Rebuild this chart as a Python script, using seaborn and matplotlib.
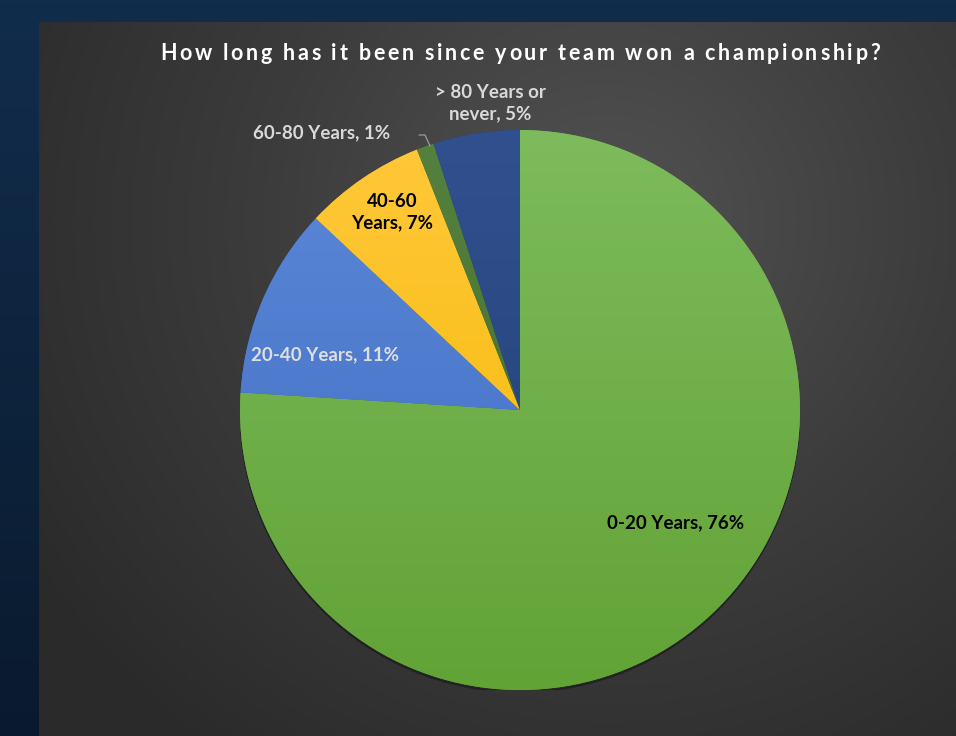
import numpy as np
import matplotlib
matplotlib.use("Agg")
import matplotlib.pyplot as plt
import seaborn as sns
from matplotlib.colors import LinearSegmentedColormap

sns.set_theme(style="white")
plt.rcParams['font.family'] = ['Lato', 'DejaVu Sans']

# ---- data ----
title = "How long has it been since your team won a championship?"
categories = ["0-20 Years", "20-40 Years", "40-60 Years", "60-80 Years", "> 80 Years or never"]
values = [76, 11, 7, 1, 5]
label_texts = ["0-20 Years, 76%", "20-40 Years, 11%", "40-60\nYears, 7%",
               "60-80 Years, 1%", "> 80 Years or\nnever, 5%"]

# ---- styles ----
colors_top = ["#7dbb5c", "#5b88d8", "#ffc83a", "#55813f", "#32508e"]
colors_bot = ["#62a336", "#3f6cc0", "#f5b800", "#43692c", "#203f74"]
label_colors = ["#000000", "#dedede", "#000000", "#d9d9d9", "#d9d9d9"]
label_pos = [(0.557, -0.404), (-0.696, 0.196), (-0.457, 0.707), (-0.707, 0.989), (-0.107, 1.096)]

W, H = 956, 736
fig = plt.figure(figsize=(W / 100, H / 100), dpi=100)

# outer navy background
bg = fig.add_axes([0, 0, 1, 1])
bg.set_axis_off()
yy = np.linspace(0, 1, 200)[:, None] * np.ones((1, 2))
navy = LinearSegmentedColormap.from_list("navy", ["#0a1a2e", "#112d4c"])
bg.imshow(yy, cmap=navy, aspect="auto", extent=(0, 1, 0, 1), origin="lower")
bg.set_xlim(0, 1); bg.set_ylim(0, 1)

# dark gray panel with radial gradient
px0, py0 = 39 / W, 0
pw, ph = 1 - px0, (H - 22) / H
panel = fig.add_axes([px0, py0, pw, ph])
panel.set_axis_off()
gx, gy = np.meshgrid(np.linspace(0, 1, 300), np.linspace(0, 1, 300))
cx, cy = 0.62, 0.72
r = np.sqrt(((gx - cx) * 1.0) ** 2 + ((gy - cy) * 0.8) ** 2)
r = np.clip(r / 0.75, 0, 1)
grey = LinearSegmentedColormap.from_list("grey", ["#525252", "#3c3c3c", "#2a2a2a"])
panel.imshow(r, cmap=grey, aspect="auto", extent=(0, 1, 0, 1), origin="lower")
panel.set_xlim(0, 1); panel.set_ylim(0, 1)

# pie axes: centre (520, 410) px, radius 280 px
R = 280
ax = fig.add_axes([(520 - R) / W, (H - 410 - R) / H, 2 * R / W, 2 * R / H])
ax.set_axis_off()

# soft shadow
shadow = plt.Circle((0.0, -0.008), 1.0, color="black", alpha=0.25, zorder=0.5)
ax.add_patch(shadow)

wedges, _ = ax.pie(values, colors=colors_bot, startangle=90, counterclock=False,
                   radius=1.0, wedgeprops=dict(linewidth=0))
ax.set_xlim(-1, 1); ax.set_ylim(-1, 1)

# vertical gradient fill in each wedge
grad = np.linspace(0, 1, 256)[:, None] * np.ones((1, 2))
for w, ct, cb in zip(wedges, colors_top, colors_bot):
    cm = LinearSegmentedColormap.from_list("g", [cb, ct])
    im = ax.imshow(grad, cmap=cm, extent=(-1, 1, -1, 1), origin="lower",
                   aspect="auto", zorder=w.get_zorder() + 0.1)
    im.set_clip_path(w)
ax.set_xlim(-1, 1); ax.set_ylim(-1, 1)

for txt, (x, y), c in zip(label_texts, label_pos, label_colors):
    ax.text(x, y, txt, ha="center", va="center", color=c, fontsize=13.5,
            fontweight="bold", linespacing=1.3, zorder=10)

# leader line for 60-80 label
ax.plot([(419 - 520) / R, (425 - 520) / R, (430 - 520) / R],
        [(410 - 135) / R, (410 - 135) / R, (410 - 146) / R],
        color="#a6a6a6", lw=0.8, zorder=10, clip_on=False)

# letter-spaced title spanning x = 160..880 px
renderer = fig.canvas.get_renderer()
tkw = dict(color="white", fontsize=15.5, fontweight="bold", va="center", ha="left")
ty = 1 - 54 / H
widths = []
for ch in title:
    if ch == " ":
        t = fig.text(0, 0, "a a", **tkw)
        w1 = t.get_window_extent(renderer).width
        t.remove()
        t = fig.text(0, 0, "aa", **tkw)
        w2 = t.get_window_extent(renderer).width
        t.remove()
        widths.append(w1 - w2)
    else:
        t = fig.text(0, 0, ch, **tkw)
        widths.append(t.get_window_extent(renderer).width)
        t.remove()
x0, x1 = 160.0, 880.0
gap = (x1 - x0 - sum(widths)) / (len(title) - 1)
xc = x0
for ch, w in zip(title, widths):
    if ch != " ":
        fig.text(xc / W, ty, ch, **tkw)
    xc += w + gap

fig.savefig("out.png", dpi=100)
